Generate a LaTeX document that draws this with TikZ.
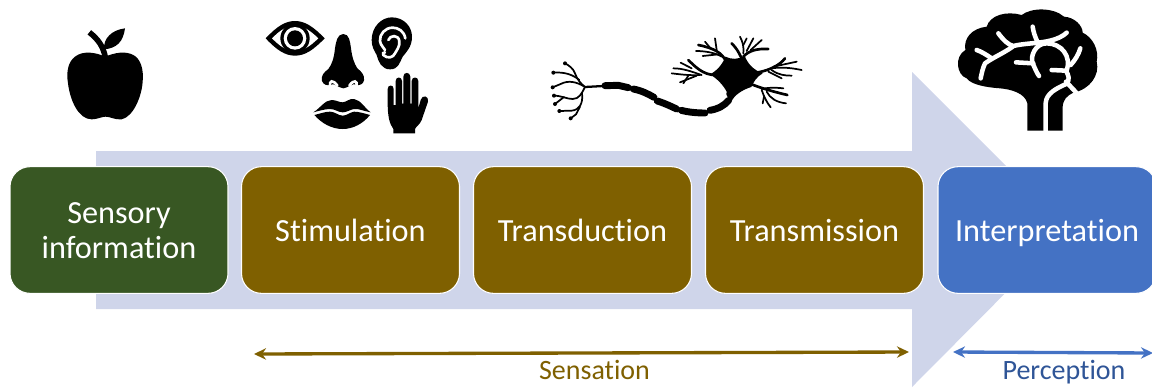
\documentclass[tikz,border=0pt]{standalone}
\usepackage{fontspec}
\setmainfont[Ligatures={NoCommon}]{Carlito}
\usetikzlibrary{arrows.meta}
\definecolor{cgreen}{HTML}{385723}
\definecolor{cbrown}{HTML}{7F6000}
\definecolor{cblue}{HTML}{4472C4}
\definecolor{cband}{HTML}{CFD5EA}
\definecolor{cperc}{HTML}{2F5597}
\newcommand{\tstrut}{\rule[-4pt]{0pt}{24.5pt}}
\tikzset{
  stagebox/.style={draw=white,line width=0.8pt,rounded corners=15pt,minimum width=163.5pt,minimum height=95pt,text=white,align=center,font=\fontsize{24.2}{26.3}\selectfont,inner sep=0pt},
  span/.style={line width=2.5pt,{Stealth[length=9pt,width=8.5pt]}-{Stealth[length=9pt,width=8.5pt]}},
  spanlabel/.style={font=\fontsize{21}{25}\selectfont,inner sep=0pt},
  den/.style={draw=black,line width=1.3pt,line cap=round,line join=round},
  denb/.style={draw=black,line width=2pt,line cap=round,line join=round},
  seg/.style={draw=black,line width=5.2pt,line cap=round,line join=round},
  brainline/.style={draw=white,line width=3.4pt,line cap=round,line join=round}
}
\begin{document}
\begin{tikzpicture}[x=0.75pt,y=-0.75pt]
\useasboundingbox (0,0) rectangle (1152,387);
% block arrow
\fill[cband] (96,151) -- (912,151) -- (912,72) -- (1069,229) -- (912,387) -- (912,309) -- (96,309) -- cycle;
% stages
\node[stagebox,fill=cgreen] (info) at (119,230) {\tstrut Sensory\\\tstrut information};
\node[stagebox,fill=cbrown] (stim) at (350.5,230) {\tstrut Stimulation};
\node[stagebox,fill=cbrown] (trand) at (582.5,230) {\tstrut Transduction};
\node[stagebox,fill=cbrown] (trans) at (814.5,230) {\tstrut Transmission};
\node[stagebox,fill=cblue] (interp) at (1047,230) {\tstrut Interpretation};
% spans
\coordinate (sa) at (254,354);
\coordinate (sb) at (909,352);
\coordinate (pa) at (953,352);
\coordinate (pb) at (1153,353);
\draw[span,cbrown] (sa) -- (sb);
\draw[span,cblue] (pa) -- (pb);
\node[spanlabel,text=cbrown] (sens) at (594.5,370) {Sensation};
\node[spanlabel,text=cperc] (perc) at (1064,372) {Perception};
% apple
\begin{scope}[shift={(40,0)},scale=1/3]
\fill (195,170) .. controls (170,158) and (130,150) .. (105,170) .. controls (85,185) and (78,215) .. (84,250) .. controls (90,300) and (115,358) .. (155,358) .. controls (172,358) and (185,350) .. (197,350) .. controls (210,350) and (225,360) .. (245,358) .. controls (280,350) and (305,290) .. (308,245) .. controls (312,205) and (300,175) .. (280,165) .. controls (255,152) and (225,158) .. (195,170) -- cycle;
\draw[line width=4.2pt] (148,97) .. controls (175,118) and (190,140) .. (196,172);
\fill (192,148) .. controls (190,115) and (215,90) .. (255,85) .. controls (250,125) and (230,145) .. (192,148) -- cycle;
\end{scope}
% eye, nose, ear, hand, lips
\begin{scope}[shift={(250,5)},scale=1/3]
% eye
\fill (47,100) .. controls (80,65) and (105,48) .. (135,48) .. controls (165,48) and (190,65) .. (224,100) .. controls (190,135) and (165,152) .. (135,152) .. controls (105,152) and (80,135) .. (47,100) -- cycle;
\fill[white] (66,100) .. controls (90,76) and (110,62) .. (135,62) .. controls (160,62) and (180,76) .. (205,100) .. controls (180,124) and (160,138) .. (135,138) .. controls (110,138) and (90,124) .. (66,100) -- cycle;
\fill (135,100) circle[radius=44];
\fill[white] (135,100) circle[radius=34];
\fill (135,100) circle[radius=24];
% nose
\fill (280,87) .. controls (262,87) and (258,110) .. (255,130) .. controls (252,160) and (245,180) .. (235,192) .. controls (222,202) and (212,212) .. (216,228) .. controls (220,240) and (232,242) .. (243,240) .. controls (250,232) and (258,245) .. (280,250) .. controls (302,245) and (310,232) .. (318,240) .. controls (328,242) and (340,238) .. (342,226) .. controls (345,212) and (335,200) .. (322,190) .. controls (312,175) and (306,155) .. (303,130) .. controls (300,110) and (298,87) .. (280,87) -- cycle;
\draw[draw=white,line width=2pt,line cap=round] (240,242) .. controls (238,228) and (248,222) .. (262,242);
\draw[draw=white,line width=2pt,line cap=round] (320,242) .. controls (322,228) and (312,222) .. (298,242);
% ear
\fill (365,105) .. controls (365,65) and (395,37) .. (425,37) .. controls (462,37) and (486,65) .. (486,95) .. controls (486,125) and (470,140) .. (458,155) .. controls (448,175) and (445,193) .. (420,193) .. controls (395,193) and (385,170) .. (380,150) .. controls (372,135) and (365,125) .. (365,105) -- cycle;
\draw[draw=white,line width=2pt,line cap=round] (466,100) .. controls (462,78) and (445,68) .. (428,68) .. controls (405,68) and (388,88) .. (390,108) .. controls (392,122) and (400,125) .. (405,135);
\draw[draw=white,line width=2pt,line cap=round] (415,105) .. controls (420,90) and (445,88) .. (448,108) .. controls (450,125) and (440,135) .. (435,145) .. controls (430,158) and (412,162) .. (400,150) .. controls (398,145) and (400,142) .. (405,142);
% hand
\fill (413,290) -- (413,252) .. controls (413,238) and (431,238) .. (431,252) -- (431,300) -- (437,300) -- (437,228) .. controls (437,214) and (456,214) .. (456,228) -- (456,296) -- (460,296) -- (460,215) .. controls (460,200) and (481,200) .. (481,215) -- (481,296) -- (485,296) -- (485,228) .. controls (485,214) and (505,214) .. (505,228) -- (505,310) -- (512,285) .. controls (516,268) and (538,272) .. (534,290) -- (515,345) .. controls (510,358) and (498,365) .. (495,372) -- (495,385) -- (430,385) -- (430,372) .. controls (418,355) and (413,335) .. (413,290) -- cycle;
% lips
\fill (190,322) .. controls (210,310) and (225,285) .. (245,285) .. controls (258,285) and (268,292) .. (277,292) .. controls (288,292) and (298,280) .. (312,282) .. controls (332,285) and (345,310) .. (362,322) .. controls (340,318) and (325,310) .. (312,312) .. controls (300,314) and (290,322) .. (278,322) .. controls (265,322) and (255,312) .. (240,312) .. controls (225,312) and (205,318) .. (190,322) -- cycle;
\fill (193,330) .. controls (210,326) and (225,320) .. (240,320) .. controls (255,320) and (265,332) .. (278,332) .. controls (290,332) and (300,322) .. (312,320) .. controls (328,320) and (345,326) .. (360,330) .. controls (340,355) and (310,372) .. (278,372) .. controls (245,372) and (215,355) .. (193,330) -- cycle;
\end{scope}
% neuron
\begin{scope}[shift={(540,25)},scale=1/3]
\draw[seg] (195,182) -- (235,181) -- (265,188);
\draw[seg] (280,192) .. controls (305,197) and (325,207) .. (342,217);
\draw[seg] (352,228) .. controls (375,235) and (395,245) .. (410,252);
\draw[seg] (424,256) .. controls (445,262) and (475,264) .. (495,264);
\draw[seg] (510,256) .. controls (535,252) and (555,240) .. (566,226);
\fill (510,148) .. controls (530,138) and (548,118) .. (556,95) .. controls (575,104) and (595,104) .. (614,92) .. controls (622,115) and (640,135) .. (668,145) .. controls (650,155) and (640,172) .. (634,186) .. controls (605,195) and (585,210) .. (574,228) .. controls (566,218) and (555,212) .. (560,200) .. controls (550,180) and (530,160) .. (510,148) -- cycle;
% axon terminal
\draw[den,line width=1.7pt] (190,183) -- (135,186);
\draw[den] (135,186) .. controls (122,175) and (112,165) .. (105,145) .. controls (100,130) and (85,120) .. (75,115);
\draw[den] (118,165) .. controls (100,150) and (75,140) .. (40,143);
\draw[den] (135,186) .. controls (110,170) and (85,165) .. (62,177) -- (38,187);
\draw[den] (135,186) .. controls (125,205) and (118,222) .. (98,222) .. controls (80,222) and (65,212) .. (42,212);
\draw[den] (72,216) -- (45,237);
\draw[den] (126,205) .. controls (130,235) and (118,255) .. (95,257) -- (58,258);
\draw[den] (120,245) -- (108,268) -- (92,280);
\foreach \px/\py in {75/115,40/143,38/187,42/212,45/237,58/258,92/280}{\fill (\px,\py) circle[radius=6];}
% dendrites
\draw[denb] (556,105) .. controls (545,85) and (525,70) .. (475,60);
\draw[den] (530,75) -- (525,40);
\draw[den] (545,95) .. controls (530,85) and (500,78) .. (468,78);
\draw[den] (535,88) -- (488,93);
\draw[den] (510,68) -- (495,50);
\draw[denb] (605,100) .. controls (595,80) and (590,70) .. (575,55);
\draw[denb] (610,95) .. controls (625,78) and (650,70) .. (685,72);
\draw[den] (610,85) .. controls (612,65) and (608,50) .. (600,35);
\draw[den] (620,78) -- (640,40);
\draw[den] (632,75) -- (665,45);
\draw[den] (610,60) -- (620,40);
\draw[denb] (655,142) .. controls (690,135) and (720,120) .. (735,100);
\draw[den] (700,125) -- (770,110);
\draw[den] (695,130) .. controls (730,125) and (760,130) .. (785,135);
\draw[den] (695,135) .. controls (715,150) and (735,152) .. (755,152);
\draw[den] (685,140) -- (725,160);
\draw[denb] (635,178) .. controls (665,190) and (700,200) .. (742,210);
\draw[den] (665,192) .. controls (680,188) and (705,187) .. (730,190);
\draw[den] (665,195) .. controls (672,215) and (680,232) .. (692,247);
\draw[den] (680,200) .. controls (690,220) and (710,232) .. (738,235);
\draw[den] (672,215) -- (668,235);
\draw[denb] (525,150) .. controls (490,150) and (465,125) .. (445,105);
\draw[den] (485,150) .. controls (455,140) and (430,130) .. (400,130);
\draw[den] (480,150) .. controls (450,152) and (420,148) .. (395,145);
\draw[den] (470,152) -- (420,172);
\draw[den] (455,130) -- (422,113);
\draw[den] (445,152) -- (430,175);
\end{scope}
% brain
\begin{scope}[shift={(940,0)},scale=1/3]
\fill (262,392) -- (262,310) .. controls (255,280) and (215,268) .. (180,265) .. controls (140,262) and (95,255) .. (80,235) .. controls (50,225) and (42,170) .. (76,150) .. controls (70,115) and (95,85) .. (140,80) .. controls (150,45) and (200,32) .. (245,45) .. controls (275,22) and (340,22) .. (372,50) .. controls (405,52) and (428,78) .. (428,98) .. controls (458,112) and (478,150) .. (470,185) .. controls (480,225) and (450,268) .. (400,278) .. controls (380,288) and (370,298) .. (368,320) -- (368,392) -- cycle;
\draw[brainline] (317,392) -- (317,310) .. controls (318,280) and (350,265) .. (378,252) .. controls (392,240) and (385,225) .. (378,212);
\draw[brainline] (378,245) -- (408,277);
\draw[brainline] (378,212) -- (335,210);
\draw[brainline] (380,212) .. controls (395,170) and (365,130) .. (320,130) .. controls (285,130) and (270,170) .. (278,190) .. controls (285,205) and (290,218) .. (297,228);
\draw[brainline] (280,190) -- (228,187);
\draw[brainline] (175,100) .. controls (190,120) and (205,135) .. (220,138) .. controls (250,130) and (300,130) .. (330,122) .. controls (350,118) and (370,108) .. (380,98);
\draw[brainline] (292,125) .. controls (285,110) and (280,95) .. (278,80);
\draw[brainline] (218,140) .. controls (190,160) and (160,172) .. (135,190) .. controls (128,205) and (125,220) .. (122,235);
\draw[brainline] (155,175) .. controls (140,165) and (125,155) .. (110,150);
\draw[brainline] (392,195) .. controls (405,180) and (415,165) .. (421,145);
\end{scope}
\end{tikzpicture}
\end{document}
